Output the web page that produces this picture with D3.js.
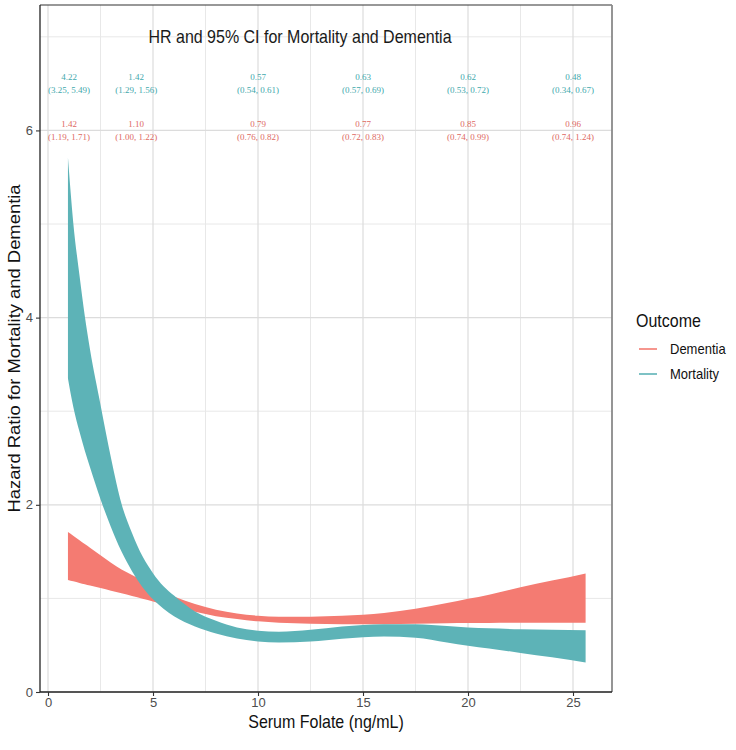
<!DOCTYPE html>
<html>
<head>
<meta charset="utf-8">
<script src="https://cdn.jsdelivr.net/npm/d3@7"></script>
<style>
  html, body { margin: 0; padding: 0; background: #fff; }
  svg { display: block; }
</style>
</head>
<body>
<script>
// ---------- data ----------
const xs = [0.95, 1.2, 1.5, 1.75, 2, 2.5, 3, 3.5, 4, 4.5, 5, 5.5, 6, 7, 8, 9, 10, 11, 12.5, 14, 15, 16, 17.5, 19, 20, 21, 22.5, 24, 25.6];
const mortalityUpper = [5.71, 5.02, 4.45, 4.02, 3.66, 3.07, 2.50, 2.01, 1.70, 1.45, 1.27, 1.13, 1.03, 0.86, 0.76, 0.69, 0.655, 0.645, 0.665, 0.70, 0.715, 0.725, 0.725, 0.705, 0.69, 0.68, 0.67, 0.665, 0.66];
const mortalityLower = [3.35, 3.05, 2.78, 2.58, 2.40, 2.06, 1.76, 1.50, 1.29, 1.12, 0.99, 0.89, 0.81, 0.70, 0.625, 0.572, 0.54, 0.53, 0.54, 0.57, 0.585, 0.593, 0.58, 0.53, 0.495, 0.465, 0.418, 0.37, 0.315];
const dementiaUpper = [1.71, 1.67, 1.62, 1.58, 1.54, 1.46, 1.38, 1.31, 1.25, 1.19, 1.13, 1.07, 1.02, 0.94, 0.88, 0.84, 0.815, 0.805, 0.805, 0.815, 0.825, 0.845, 0.89, 0.95, 0.995, 1.04, 1.12, 1.19, 1.267];
const dementiaLower = [1.196, 1.182, 1.165, 1.151, 1.137, 1.11, 1.082, 1.054, 1.026, 0.997, 0.968, 0.938, 0.908, 0.858, 0.81, 0.78, 0.755, 0.74, 0.73, 0.725, 0.725, 0.725, 0.73, 0.735, 0.737, 0.738, 0.74, 0.74, 0.74];

const labelX = [1, 4.2, 10, 15, 20, 25];
const mortalityHR = ["4.22", "1.42", "0.57", "0.63", "0.62", "0.48"];
const mortalityCI = ["(3.25, 5.49)", "(1.29, 1.56)", "(0.54, 0.61)", "(0.57, 0.69)", "(0.53, 0.72)", "(0.34, 0.67)"];
const dementiaHR = ["1.42", "1.10", "0.79", "0.77", "0.85", "0.96"];
const dementiaCI = ["(1.19, 1.71)", "(1.00, 1.22)", "(0.76, 0.82)", "(0.72, 0.83)", "(0.74, 0.99)", "(0.74, 1.24)"];

const xTicks = [0, 5, 10, 15, 20, 25];
const xMinor = [2.5, 7.5, 12.5, 17.5, 22.5];
const yTicks = [0, 2, 4, 6];
const yMinor = [1, 3, 5, 7];

const outcomes = ["Dementia", "Mortality"];
const titleText = "HR and 95% CI for Mortality and Dementia";
const xTitle = "Serum Folate (ng/mL)";
const yTitle = "Hazard Ratio for Mortality and Dementia";

// ---------- layout ----------
const W = 736, H = 750;
const panel = { left: 40, right: 612, top: 5, bottom: 692 };
const colRed = "#F47B72", colTeal = "#5DB3B7";
const txtRed = "#DE6A63", txtTeal = "#3FA9AD";
const sans = "'Liberation Sans', Arial, Helvetica, sans-serif";
const serif = "'Liberation Serif', 'Times New Roman', serif";
const VS = 1.15; // vertical stretch of the reference picture

const x = d3.scaleLinear().domain([-0.381, 26.857]).range([panel.left, panel.right]);
const y = d3.scaleLinear().domain([0, 7.34]).range([panel.bottom, panel.top]);

const svg = d3.select("body").append("svg").attr("width", W).attr("height", H);

function sText(parent, px, py, str, size, anchor, fill, dy) {
  return parent.append("text")
    .attr("transform", `translate(${px},${py}) scale(1,${VS})`)
    .attr("dy", dy || 0)
    .attr("text-anchor", anchor).attr("font-family", sans).attr("font-size", size).attr("fill", fill)
    .text(str);
}

// grid
const grid = svg.append("g");
grid.selectAll(".xmin").data(xMinor).join("line")
  .attr("x1", d => x(d)).attr("x2", d => x(d)).attr("y1", panel.top).attr("y2", panel.bottom)
  .attr("stroke", "#E8E8E8").attr("stroke-width", 1);
grid.selectAll(".ymin").data(yMinor).join("line")
  .attr("y1", d => y(d)).attr("y2", d => y(d)).attr("x1", panel.left).attr("x2", panel.right)
  .attr("stroke", "#E8E8E8").attr("stroke-width", 1);
grid.selectAll(".xmaj").data(xTicks).join("line")
  .attr("x1", d => x(d)).attr("x2", d => x(d)).attr("y1", panel.top).attr("y2", panel.bottom)
  .attr("stroke", "#DCDCDC").attr("stroke-width", 1.2);
grid.selectAll(".ymaj").data(yTicks).join("line")
  .attr("y1", d => y(d)).attr("y2", d => y(d)).attr("x1", panel.left).attr("x2", panel.right)
  .attr("stroke", "#DCDCDC").attr("stroke-width", 1.2);

// bands
const rows = xs.map((v, i) => ({ x: v, dl: dementiaLower[i], du: dementiaUpper[i], ml: mortalityLower[i], mu: mortalityUpper[i] }));
const areaDem = d3.area().curve(d3.curveMonotoneX).x(d => x(d.x)).y0(d => y(d.dl)).y1(d => y(d.du));
const areaMor = d3.area().curve(d3.curveMonotoneX).x(d => x(d.x)).y0(d => y(d.ml)).y1(d => y(d.mu));
svg.append("path").datum(rows).attr("d", areaDem).attr("fill", colRed);
svg.append("path").datum(rows).attr("d", areaMor).attr("fill", colTeal);

// title annotation
sText(svg, x(12), y(7), titleText, 16, "middle", "#1a1a1a", "0.35em");

// HR labels
function labels(hr, ci, yc, col) {
  const g = svg.append("g").attr("font-family", serif).attr("font-size", 9).attr("fill", col).attr("text-anchor", "middle");
  g.selectAll(".hr").data(labelX).join("text")
    .attr("x", d => x(d)).attr("y", y(yc) - 6.5).attr("dy", "0.35em").text((d, i) => hr[i]);
  g.selectAll(".ci").data(labelX).join("text")
    .attr("x", d => x(d)).attr("y", y(yc) + 6.5).attr("dy", "0.35em").text((d, i) => ci[i]);
}
labels(mortalityHR, mortalityCI, 6.5, txtTeal);
labels(dementiaHR, dementiaCI, 6.0, txtRed);

// panel border
svg.append("line").attr("x1", panel.left).attr("x2", panel.right).attr("y1", panel.top).attr("y2", panel.top)
  .attr("stroke", "#333").attr("stroke-width", 1.2);
svg.append("line").attr("x1", panel.right).attr("x2", panel.right).attr("y1", panel.top).attr("y2", panel.bottom)
  .attr("stroke", "#8a8a8a").attr("stroke-width", 1.8);

// axes
const xAxis = svg.append("g").attr("transform", `translate(0,${panel.bottom})`)
  .call(d3.axisBottom(x).tickValues(xTicks).tickSize(4).tickSizeOuter(0).tickPadding(2));
const yAxis = svg.append("g").attr("transform", `translate(${panel.left},0)`)
  .call(d3.axisLeft(y).tickValues(yTicks).tickSize(4).tickSizeOuter(0).tickPadding(3));
[xAxis, yAxis].forEach(a => {
  a.select(".domain").attr("stroke", "#222").attr("stroke-width", 1.3);
  a.selectAll(".tick line").attr("stroke", "#333").attr("stroke-width", 1.1);
  a.selectAll(".tick text").attr("font-family", sans).attr("font-size", 13).attr("fill", "#4D4D4D");
});
yAxis.select(".domain").attr("d", `M0,${panel.top}V${panel.bottom}`);
xAxis.select(".domain").attr("d", `M${panel.left},0H${panel.right}`);

// axis titles
sText(svg, (panel.left + panel.right) / 2, 728, xTitle, 16, "middle", "#111");
svg.append("text")
  .attr("transform", `translate(20,${(panel.top + panel.bottom) / 2}) rotate(-90) scale(${VS},1)`)
  .attr("text-anchor", "middle").attr("font-family", sans).attr("font-size", 16).attr("fill", "#111")
  .text(yTitle);

// legend
const leg = svg.append("g");
sText(leg, 636, 327, "Outcome", 16, "start", "#111");
const legColors = [colRed, colTeal];
outcomes.forEach((o, i) => {
  const yy = 349 + i * 25;
  leg.append("line").attr("x1", 639).attr("x2", 657).attr("y1", yy).attr("y2", yy)
    .attr("stroke", legColors[i]).attr("stroke-width", 1.6);
  sText(leg, 670, yy, o, 13, "start", "#111", "0.35em");
});
</script>
</body>
</html>
